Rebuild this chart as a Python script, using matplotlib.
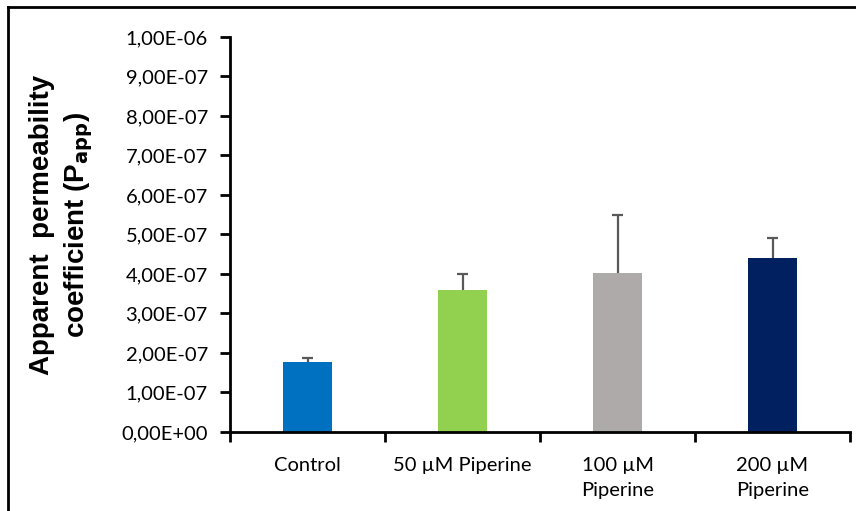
import matplotlib
matplotlib.use("Agg")
import matplotlib.pyplot as plt
from matplotlib.ticker import FuncFormatter
from matplotlib.lines import Line2D

# groups and apparent permeability values
groups = ["Control", "50 µM Piperine", "100 µM\nPiperine", "200 µM\nPiperine"]
papp = [1.78e-07, 3.60e-07, 4.03e-07, 4.40e-07]
err_up = [0.09e-07, 0.40e-07, 1.47e-07, 0.52e-07]
colors = ["#0070C0", "#92D050", "#AEAAAA", "#002060"]

fig = plt.figure(figsize=(8.56, 5.11), dpi=100)
ax = fig.add_axes([0.2687, 0.1546, 0.7243, 0.773])

x = list(range(len(groups)))
ax.bar(x, papp, width=0.315, color=colors, zorder=2)

# upper error bars only
tops = [p + e for p, e in zip(papp, err_up)]
ax.vlines(x, papp, tops, color="#595959", lw=1.6, zorder=3)
ax.hlines(tops, [i - 0.038 for i in x], [i + 0.038 for i in x], color="#595959", lw=1.6, zorder=3)

ax.set_xlim(-0.5, 3.5)
ax.set_ylim(0, 1e-06)
ax.set_yticks([i * 1e-07 for i in range(11)])
ax.yaxis.set_major_formatter(FuncFormatter(lambda v, p: f"{v:.2E}".replace(".", ",")))

# category labels at bar centres, tick marks at boundaries
ax.set_xticks(x)
ax.set_xticklabels(groups, fontsize=14.5, family="Lato", linespacing=1.6)
ax.set_xticks([-0.5, 0.5, 1.5, 2.5, 3.5], minor=True)
ax.tick_params(axis="x", which="major", length=0, pad=18)
ax.tick_params(axis="x", which="minor", length=7, width=2, direction="out")
ax.tick_params(axis="y", length=7, width=2, direction="out", labelsize=14.5, pad=9)
for lab in ax.get_yticklabels():
    lab.set_family("Lato")

for s in ["top", "right"]:
    ax.spines[s].set_visible(False)
for s in ["left", "bottom"]:
    ax.spines[s].set_linewidth(2)

fig.text(62 / 856, 1 - 225 / 511, "Apparent  permeability\ncoefficient (P$_\\mathbf{app}$)",
         fontsize=20, fontweight="bold", family="Liberation Sans", rotation=90,
         ha="center", va="center", multialignment="center", linespacing=1.3)

# outer frame (top and left edges visible)
fig.add_artist(Line2D([8 / 856, 8 / 856], [0, 1 - 7 / 511], transform=fig.transFigure,
                      color="black", lw=2))
fig.add_artist(Line2D([8 / 856, 1], [1 - 7 / 511, 1 - 7 / 511], transform=fig.transFigure,
                      color="black", lw=2))

fig.savefig("out.png", dpi=100)
